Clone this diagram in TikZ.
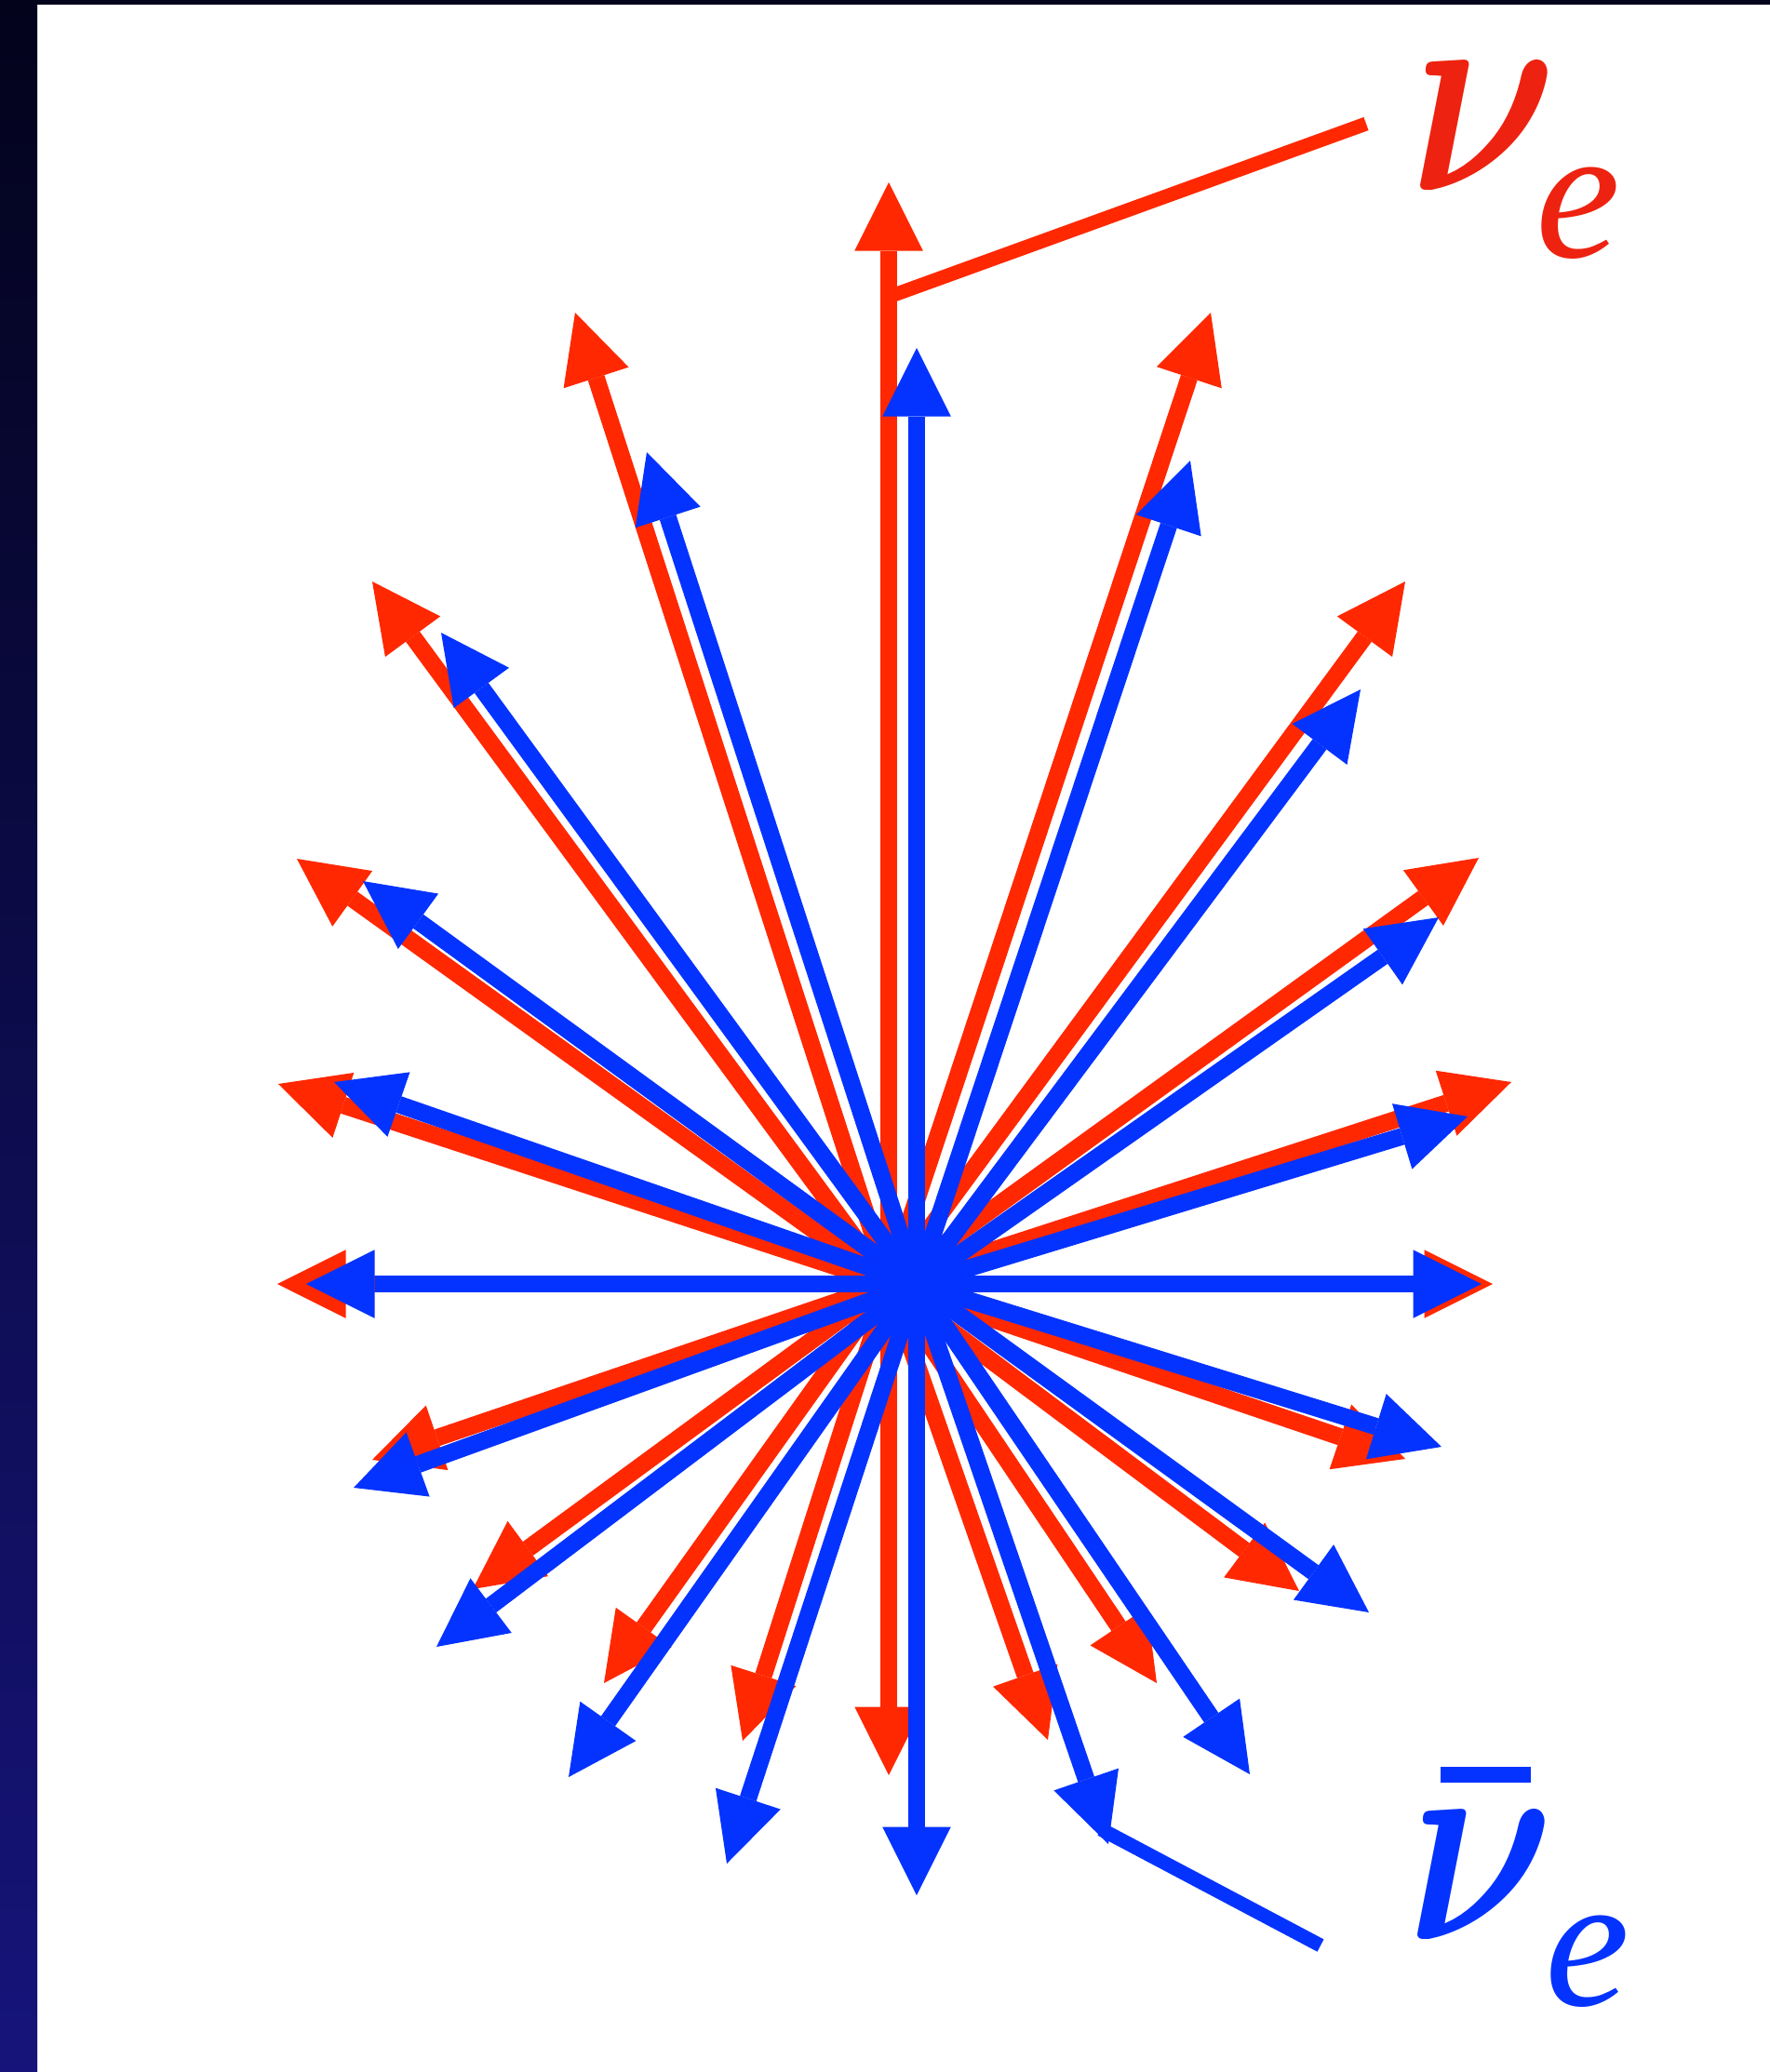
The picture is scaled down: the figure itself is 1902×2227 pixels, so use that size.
\RequirePackage{fix-cm}
\documentclass[tikz,border=0pt]{standalone}
\usepackage{fontspec}
\usepackage{bm}
\setmainfont{Liberation Serif}
\usetikzlibrary{arrows.meta}
\definecolor{nured}{RGB}{255,40,0}
\definecolor{nublue}{RGB}{4,51,255}
\definecolor{labred}{RGB}{238,34,16}
\definecolor{stripTop}{RGB}{3,3,28}
\definecolor{stripBot}{RGB}{22,20,122}
\newcommand{\bignu}{\scalebox{0.79}[1]{$\bm{\nu}$}}
\begin{document}
\begin{tikzpicture}[x=1pt,y=-1pt,
  ray/.style={line width=18.5pt,-{Triangle[length=73.5pt,width=73.5pt,line width=0pt]}},
  redray/.style={ray,color=nured},
  blueray/.style={ray,color=nublue},
  leader/.style={line width=15pt},
  biglab/.style={font=\fontsize{310}{310}\selectfont,anchor=base west,inner sep=0pt},
  sublab/.style={font=\fontsize{205}{205}\selectfont\itshape,anchor=base west,inner sep=0pt}]
\useasboundingbox (0,0) rectangle (1902,2227);
\fill[white] (0,0) rectangle (1902,2227);
\shade[top color=stripTop,bottom color=stripBot] (0,0) rectangle (40,2227);
\fill[stripTop] (40,0) rectangle (1902,5);
% centres
\coordinate (rc) at (955,1380);
\coordinate (bc) at (985,1380);
% red tips
\coordinate (r1) at (955,196);
\coordinate (r2) at (618,336);
\coordinate (r3) at (400,625);
\coordinate (r4) at (319,923);
\coordinate (r5) at (299,1165);
\coordinate (r6) at (298,1380);
\coordinate (r7) at (400,1569);
\coordinate (r8) at (508,1708);
\coordinate (r9) at (649,1809);
\coordinate (r10) at (798,1871);
\coordinate (r11) at (955,1908);
\coordinate (r12) at (1126,1870);
\coordinate (r13) at (1243,1809);
\coordinate (r14) at (1396,1710);
\coordinate (r15) at (1510,1568);
\coordinate (r16) at (1604,1380);
\coordinate (r17) at (1624,1163);
\coordinate (r18) at (1589,922);
\coordinate (r19) at (1510,625);
\coordinate (r20) at (1301,336);
% blue tips
\coordinate (b1) at (985,374);
\coordinate (b2) at (695,486);
\coordinate (b3) at (474,680);
\coordinate (b4) at (390,947);
\coordinate (b5) at (359,1163);
\coordinate (b6) at (329,1380);
\coordinate (b7) at (380,1599);
\coordinate (b8) at (469,1770);
\coordinate (b9) at (611,1910);
\coordinate (b10) at (781,2003);
\coordinate (b11) at (985,2037);
\coordinate (b12) at (1191,1982);
\coordinate (b13) at (1343,1907);
\coordinate (b14) at (1471,1733);
\coordinate (b15) at (1549,1555);
\coordinate (b16) at (1592,1380);
\coordinate (b17) at (1577,1200);
\coordinate (b18) at (1546,986);
\coordinate (b19) at (1462,741);
\coordinate (b20) at (1279,495);
% red arrows
\foreach \i in {1,...,20} {\draw[redray] (rc) -- (r\i);}
% red leader
\coordinate (rl0) at (955,319);
\coordinate (rl1) at (1468,133);
\draw[leader,nured] (rl0) -- (rl1);
% blue arrows
\foreach \i in {1,...,20} {\draw[blueray] (bc) -- (b\i);}
% blue leader
\coordinate (bl0) at (1183,1966);
\coordinate (bl1) at (1419,2091);
\draw[leader,nublue] (bl0) -- (bl1);
% labels
\node[biglab,text=labred] (nu) at (1515,204) {\bignu};
\node[sublab,text=labred] (nue) at (1650,276) {e};
\node[biglab,text=nublue] (anu) at (1512,2084) {\bignu};
\node[sublab,text=nublue] (anue) at (1660,2155) {e};
\fill[nublue] (1548,1899) rectangle (1645,1916);
\end{tikzpicture}
\end{document}
